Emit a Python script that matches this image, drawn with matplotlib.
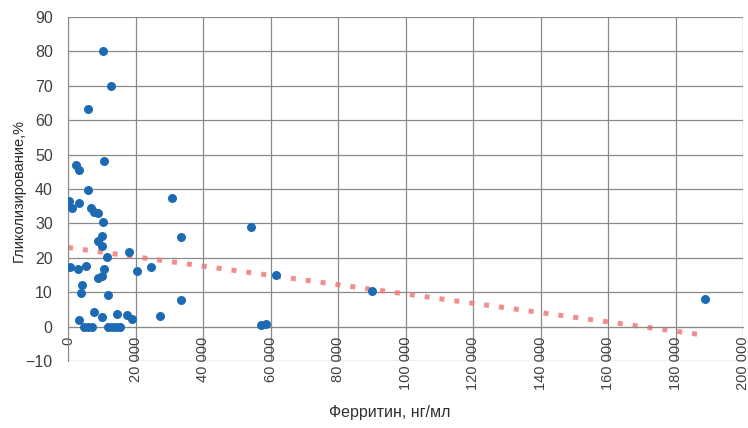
import matplotlib
matplotlib.use("Agg")
import matplotlib.pyplot as plt
from matplotlib.ticker import FuncFormatter

# ферритин (нг/мл) и гликолизирование (%)
ferritin = [10450, 12700, 5800, 2300, 3250, 10650, 6000, 30700,
            300, 1100, 3250, 6800, 7800, 9000, 10450, 33450, 10150,
            8800, 9950, 18050, 11450, 600, 3050, 5250, 10750, 20350,
            24550, 8800, 9950, 4250, 3850, 11750, 33450, 7800, 3250,
            10150, 14400, 17350, 19000, 27200, 4800, 6000, 7200, 11750,
            12900, 14100, 15400, 54200, 61600, 90200, 57300, 58800, 188600]
glyc = [80, 70, 63.4, 47, 45.5, 48, 39.8, 37.5,
        36.6, 34.4, 35.9, 34.4, 33.4, 33, 30.5, 26, 26.4,
        24.9, 23.5, 21.8, 20.1, 17.3, 16.7, 17.7, 16.7, 16.3,
        17.2, 14.1, 14.6, 12.2, 9.8, 9.3, 7.6, 4.2, 1.8,
        2.8, 3.8, 3.5, 2.2, 3.0, 0, 0, 0, 0,
        0, 0, 0, 29, 14.9, 10.4, 0.6, 0.9, 8.1]

# линия тренда (концы)
trend_x = [0, 188600]
trend_y = [23, -2.5]

plt.rcParams['font.family'] = ['Liberation Sans', 'DejaVu Sans']

fig = plt.figure(figsize=(7.48, 4.28), dpi=100)
ax = fig.add_axes([68/748, 67/428, 675/748, 344/428])

ax.plot(trend_x, trend_y, color='#f07a7a', lw=3.6, ls=(0, (1.0, 2.0)),
        dash_capstyle='butt', alpha=0.85, zorder=2)
ax.scatter(ferritin, glyc, s=42, color='#1b6ab3', linewidth=0, zorder=3)

ax.set_xlim(0, 200000)
ax.set_ylim(-10, 90)
ax.set_xticks(range(0, 200001, 20000))
ax.set_yticks(range(-10, 91, 10))
ax.xaxis.set_major_formatter(FuncFormatter(lambda v, p: f"{int(v):,}".replace(",", " ")))
ax.grid(True, color='#8a8a8a', lw=0.9)
ax.set_axisbelow(True)

for s in ['top', 'right']:
    ax.spines[s].set_visible(False)
ax.spines['bottom'].set_position(('data', 0))
ax.spines['bottom'].set_color('#8a8a8a')
ax.spines['left'].set_color('#8a8a8a')

ax.tick_params(axis='x', length=0, pad=7, labelsize=10.5, labelcolor='#404040',
               labelrotation=90)
ax.tick_params(axis='y', length=0, pad=11, labelsize=11.5, labelcolor='#404040')
for lbl in ax.get_xticklabels():
    lbl.set_va('top')

fig.text(19/748, 1 - 191/428, "Гликолизирование,%", rotation=90, ha='center',
         va='center', fontsize=10.5, color='#262626')
fig.text(390/748, 1 - 412/428, "Ферритин, нг/мл", ha='center', va='center',
         fontsize=11.5, color='#303030')

fig.savefig("out.png", dpi=100)
